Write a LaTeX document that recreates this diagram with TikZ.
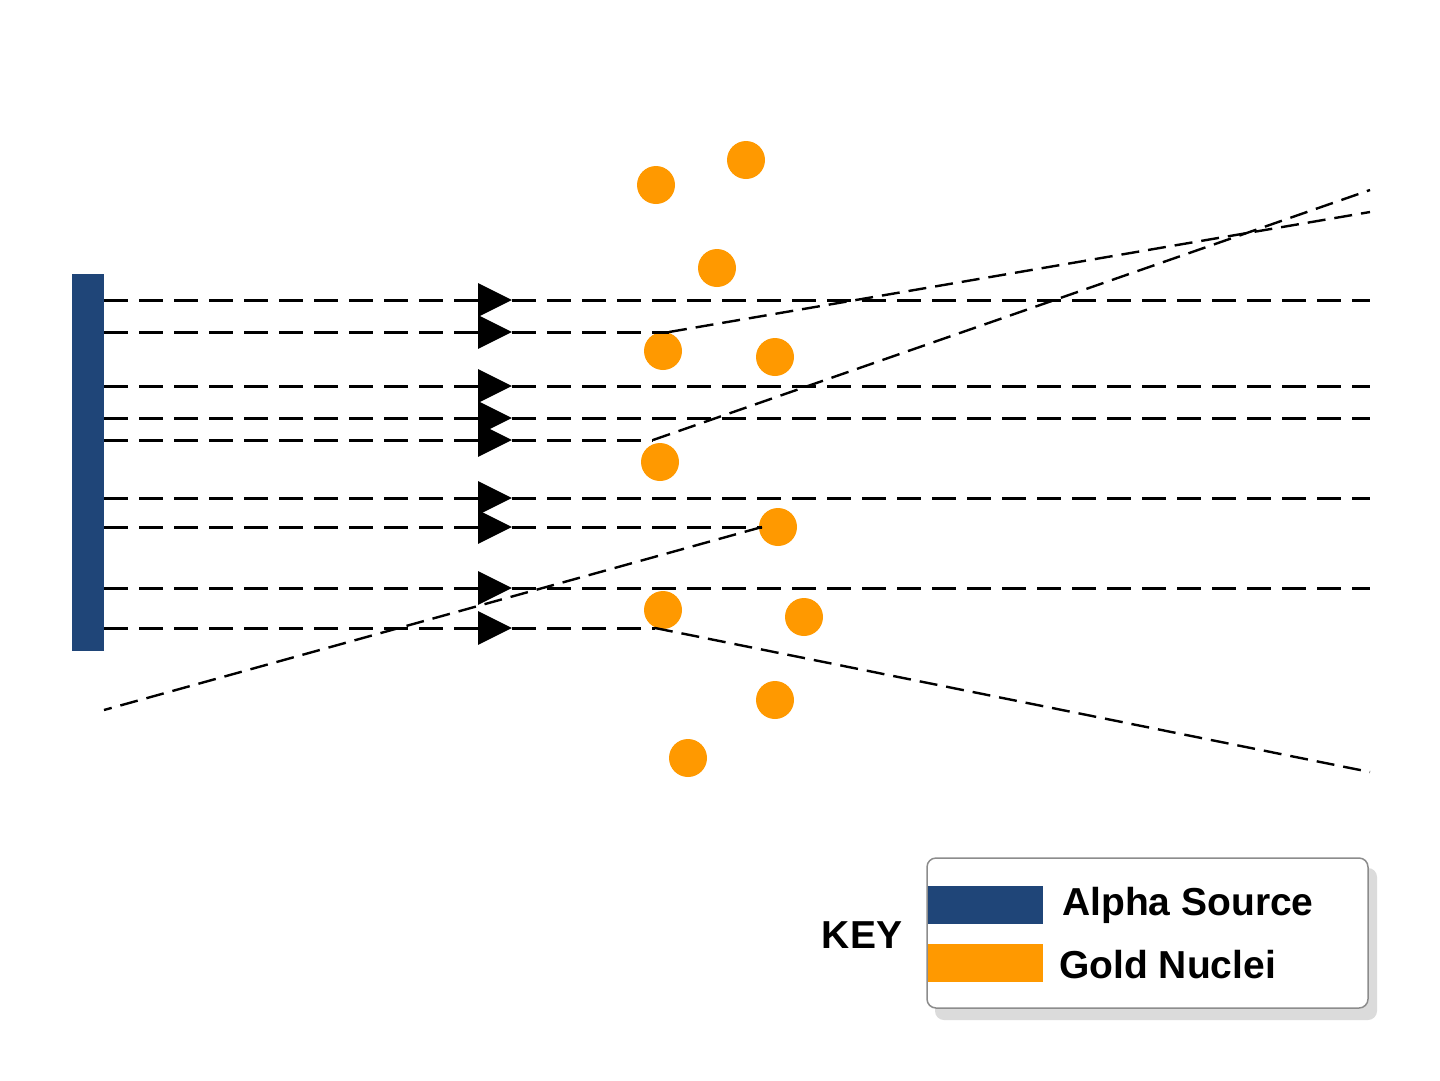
\documentclass[tikz,border=0pt]{standalone}
\usepackage{fontspec}
\setmainfont{Liberation Sans}
\usetikzlibrary{arrows.meta}
\definecolor{srcblue}{HTML}{1F4578}
\definecolor{gold}{HTML}{FF9900}
\begin{document}
\begin{tikzpicture}[x=1pt,y=-1pt,
  ray/.style={line width=3pt, dash pattern=on 24pt off 11pt},
  defl/.style={line width=2.4pt, dash pattern=on 18pt off 9pt},
  tip/.style={-{Triangle[length=34pt,width=33pt]}},
  nucleus/.style={circle, fill=gold, minimum size=38pt, inner sep=0pt},
  keytext/.style={font=\bfseries\fontsize{39}{47}\selectfont, inner sep=0pt, anchor=west}]
\useasboundingbox (0,0) rectangle (1440,1080);
% source
\node[fill=srcblue, minimum width=32pt, minimum height=377pt, inner sep=0pt] (src) at (88,462) {};
% nuclei
\node[nucleus] (n1) at (656,185) {};
\node[nucleus] (n2) at (746,160) {};
\node[nucleus] (n3) at (717,268) {};
\node[nucleus] (n4) at (663,351) {};
\node[nucleus] (n5) at (775,357) {};
\node[nucleus] (n6) at (660,462) {};
\node[nucleus] (n7) at (778,527) {};
\node[nucleus] (n8) at (663,610) {};
\node[nucleus] (n9) at (804,617) {};
\node[nucleus] (n10) at (775,700) {};
\node[nucleus] (n11) at (688,758) {};
% rays
\foreach \i/\y in {1/300,2/332,3/386,4/418,5/440,6/498,7/527,8/588,9/628}{
  \coordinate (s\i) at (104,\y);
  \coordinate (t\i) at (512,\y);
  \coordinate (e\i) at (1370,\y);
  \draw[ray,tip] (s\i) -- (t\i);
}
\draw[ray] (t1) -- (e1);
\draw[ray] (t3) -- (e3);
\draw[ray] (t4) -- (e4);
\draw[ray] (t6) -- (e6);
\draw[ray] (t8) -- (e8);
% deflected rays
\coordinate (b2) at (669,332);
\coordinate (b5) at (653,440);
\coordinate (b7) at (762,527);
\coordinate (b9) at (655,628);
\coordinate (f2) at (1370,212);
\coordinate (f5) at (1370,190);
\coordinate (f7) at (104,710);
\coordinate (f9) at (1370,772);
\draw[ray] (t2) -- (b2);
\draw[ray] (t5) -- (b5);
\draw[ray] (t7) -- (b7);
\draw[ray] (t9) -- (b9);
\draw[defl] (b2) -- (f2);
\draw[defl] (b5) -- (f5);
\draw[defl] (b7) -- (f7);
\draw[defl] (b9) -- (f9);
% key
\fill[black!14, rounded corners=9pt] (935,868) rectangle (1377,1020);
\node[draw=black!45, line width=1.5pt, fill=white, rounded corners=9pt, minimum width=441pt, minimum height=150pt, inner sep=0pt] (keybox) at (1147.5,933) {};
\node[fill=srcblue, minimum width=115pt, minimum height=38pt, inner sep=0pt] (kblue) at (985.5,905) {};
\node[fill=gold, minimum width=115pt, minimum height=38pt, inner sep=0pt] (korange) at (985.5,963) {};
\node[keytext] (talpha) at (1062,905) {Alpha Source};
\node[keytext] (tgold) at (1059,965) {Gold Nuclei};
\node[keytext, anchor=center] (key) at (862,935) {KEY};
\end{tikzpicture}
\end{document}
